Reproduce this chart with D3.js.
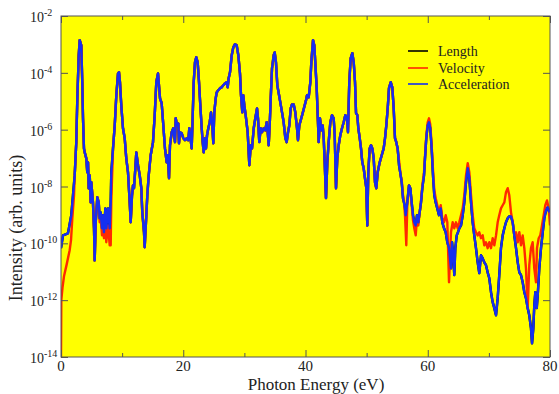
<!DOCTYPE html>
<html><head><meta charset="utf-8">
<script src="https://cdn.jsdelivr.net/npm/d3@7"></script>
<style>body{margin:0;background:#fff}svg{display:block}</style>
</head><body>
<script>
// ---------- data ----------
const xTicks = [0, 20, 40, 60, 80];
const xMinorTicks = [10, 30, 50, 70];
const yExponents = [-2, -4, -6, -8, -10, -12, -14];
const seriesNames = ["Length", "Velocity", "Acceleration"];
const seriesColors = ["#000000", "#ff2a00", "#1530f0"];

// segments: [photon energy (eV), log10 intensity]
const accHead = [[0,-10.17],[0.33,-9.72],[1.14,-9.65],[1.68,-9.01],[1.96,-8.31]];
const velHead = [[0,-14],[0.05,-12.0],[0.25,-11.55],[0.49,-11.16],[0.93,-10.74],[1.42,-10.24],[1.64,-9.89],[1.85,-9.12],[2.13,-8.31]];
const shared1 = [[2.24,-7.61],[2.50,-6.44],[2.67,-4.90],[2.90,-3.38],[3.06,-2.85],[3.32,-3.03],[3.48,-4.33],[3.60,-5.60],[3.76,-6.66],[3.88,-6.80],[4.14,-7.01],[4.30,-7.50],[4.42,-7.15],[4.53,-8.06],[4.70,-7.61],[4.86,-8.56],[4.96,-7.85],[5.23,-8.56],[5.40,-9.47],[5.51,-10.60],[5.68,-9.26],[5.94,-8.38],[6.17,-8.56]];
const accDip = [[6.33,-9.12],[6.49,-8.91],[6.71,-9.47],[6.87,-9.01],[7.03,-9.61],[7.25,-8.77],[7.41,-9.47],[7.69,-8.77],[7.97,-9.47],[8.13,-8.56],[8.23,-7.50]];
const velDip = [[6.33,-9.26],[6.49,-9.01],[6.71,-9.72],[6.87,-9.19],[7.03,-9.82],[7.25,-9.01],[7.41,-9.96],[7.69,-9.37],[7.97,-10.07],[8.13,-10.07],[8.23,-8.49]];
const shared2 = [[8.51,-6.66],[8.79,-5.85],[9.05,-4.79],[9.33,-4.02],[9.49,-3.98],[9.65,-4.33],[9.86,-5.14],[10.14,-5.95],[10.42,-6.30],[10.68,-7.01],[10.96,-7.50],[11.24,-8.56],[11.40,-9.26],[11.62,-8.31],[11.78,-7.96],[11.94,-8.06],[12.16,-7.36],[12.32,-6.80],[12.60,-7.25],[12.88,-7.61],[13.14,-8.06],[13.30,-8.91],[13.58,-9.61],[13.69,-10.14],[13.96,-9.01],[14.12,-8.31],[14.35,-7.61],[14.67,-6.90],[15.05,-6.44],[15.33,-5.49],[15.59,-4.33],[15.87,-4.02],[16.20,-4.90],[16.47,-5.07],[16.74,-5.85],[17.01,-6.66],[17.29,-7.15],[17.46,-6.90],[17.67,-7.71],[17.83,-6.55],[18.11,-6.09],[18.37,-5.95],[18.65,-6.44],[18.77,-5.60],[18.98,-5.85],[19.19,-5.78],[19.30,-6.48],[19.47,-6.09],[19.75,-6.13],[20.01,-6.30],[20.29,-6.37],[20.56,-6.30],[20.83,-6.37],[20.99,-5.95],[21.22,-6.37],[21.38,-6.66],[21.55,-5.49],[21.71,-4.33],[21.92,-3.63],[22.13,-3.45],[22.36,-3.63],[22.58,-4.33],[22.79,-5.14],[23.02,-5.95],[23.18,-6.44],[23.35,-6.80],[23.56,-6.30],[23.72,-6.66],[23.89,-6.20],[24.10,-5.95],[24.33,-5.74],[24.54,-5.39],[24.75,-5.85],[24.92,-6.48],[25.08,-5.39],[25.31,-4.90],[25.47,-4.69],[25.73,-4.61],[26.01,-4.54],[26.29,-4.51],[26.55,-4.44],[26.83,-4.37],[27.11,-4.33],[27.27,-4.51],[27.43,-4.19],[27.65,-3.98],[27.93,-3.38],[28.19,-3.10],[28.47,-2.99],[28.74,-3.03],[29.01,-3.38],[29.28,-4.02],[29.45,-4.79],[29.66,-5.39],[29.82,-4.79],[29.99,-5.14],[30.21,-5.49],[30.54,-6.09],[30.81,-7.25],[31.04,-6.55],[31.25,-6.66],[31.53,-5.95],[31.79,-5.60],[32.07,-5.25],[32.23,-5.60],[32.44,-6.44],[32.67,-5.95],[32.88,-6.09],[33.16,-5.95],[33.42,-6.02],[33.65,-5.74],[33.82,-6.09],[33.98,-6.55],[34.14,-5.85],[34.31,-4.90],[34.52,-3.84],[34.80,-3.38],[34.96,-3.28],[35.17,-3.63],[35.39,-4.44],[35.62,-4.72],[35.88,-5.04],[36.16,-5.39],[36.43,-5.74],[36.70,-6.30],[36.92,-6.44],[37.14,-6.09],[37.35,-5.85],[37.58,-5.25],[37.79,-5.11],[38.07,-5.11],[38.33,-5.39],[38.61,-5.95],[38.77,-6.37],[38.99,-5.85],[39.31,-5.60],[39.54,-5.42],[39.87,-5.14],[40.08,-4.97],[40.25,-4.79],[40.52,-4.86],[40.79,-4.33],[40.95,-3.63],[41.23,-2.85],[41.44,-3.03],[41.60,-3.63],[41.83,-4.54],[42.04,-5.74],[42.16,-6.44],[42.37,-5.60],[42.58,-6.02],[42.81,-5.85],[42.98,-6.30],[43.14,-7.15],[43.35,-8.41],[43.57,-7.15],[43.79,-6.44],[44.06,-5.74],[44.33,-5.49],[44.61,-5.60],[44.78,-6.20],[44.99,-8.06],[45.20,-7.01],[45.43,-6.55],[45.69,-6.20],[45.97,-5.95],[46.25,-5.74],[46.51,-5.49],[46.79,-5.60],[46.95,-6.09],[47.16,-4.33],[47.39,-3.49],[47.66,-3.31],[47.89,-3.63],[48.10,-4.33],[48.27,-5.42],[48.48,-5.49],[48.64,-5.95],[48.87,-6.30],[49.08,-6.66],[49.29,-7.15],[49.52,-7.36],[49.73,-7.71],[49.95,-8.06],[50.11,-9.37],[50.27,-7.50],[50.50,-6.66],[50.72,-6.55],[50.93,-6.66],[51.16,-7.01],[51.37,-7.85],[51.58,-8.06],[51.81,-7.50],[52.14,-7.15],[52.47,-6.90],[52.79,-6.66],[53.01,-6.30],[53.22,-5.85],[53.45,-5.25],[53.66,-4.54],[53.94,-4.33],[54.20,-4.51],[54.43,-5.25]];
const accTail = [[54.64,-6.30],[54.85,-6.44],[55.08,-6.66],[55.30,-7.25],[55.57,-7.61],[55.74,-7.85],[55.95,-8.41],[56.11,-8.56],[56.28,-8.77],[56.39,-9.01],[56.65,-8.56],[56.93,-7.96],[57.15,-8.06],[57.37,-8.56],[57.59,-9.01],[57.80,-9.26],[58.03,-9.37],[58.24,-9.01],[58.45,-9.26],[58.68,-8.91],[58.90,-8.56],[59.11,-8.06],[59.39,-7.61],[59.55,-7.01],[59.76,-6.30],[59.99,-5.85],[60.20,-5.74],[60.41,-5.95],[60.64,-6.66],[60.86,-7.61],[61.07,-8.31],[61.30,-8.56],[61.56,-8.77],[61.84,-9.01],[62.12,-8.77],[62.38,-9.26],[62.66,-9.47],[62.94,-9.61],[63.20,-9.96],[63.48,-10.17],[63.80,-10.88],[63.97,-9.96],[64.18,-10.42],[64.34,-11.12],[64.51,-10.17],[64.74,-9.72],[64.95,-9.61],[65.16,-9.47],[65.44,-9.37],[65.72,-9.01],[65.98,-8.56],[66.26,-7.85],[66.54,-7.36],[66.80,-7.71],[67.08,-8.56],[67.35,-9.26],[67.61,-9.72],[67.89,-10.17],[68.17,-10.67],[68.43,-11.05],[68.71,-10.42],[68.99,-10.53],[69.25,-10.67],[69.53,-10.77],[69.80,-11.02],[70.07,-11.23],[70.35,-11.72],[70.62,-12.07],[70.89,-12.28],[71.17,-12.53],[71.44,-11.93],[71.70,-11.12],[71.98,-10.17],[72.26,-9.72],[72.53,-9.47],[72.80,-9.26],[73.08,-9.12],[73.34,-9.05],[73.62,-9.05],[73.90,-9.26],[74.16,-9.72],[74.44,-10.17],[74.72,-10.67],[74.98,-11.02],[75.26,-11.12],[75.53,-11.37],[75.80,-11.72],[76.07,-11.93],[76.35,-12.28],[76.61,-12.53],[76.89,-12.99],[77.06,-13.52],[77.27,-12.99],[77.43,-12.18],[77.60,-11.72],[77.83,-12.28],[77.99,-11.83],[78.25,-10.88],[78.53,-10.17],[78.81,-9.61],[79.07,-9.12],[79.35,-8.84],[79.62,-8.73],[79.89,-8.91]];
const velTail = [[54.64,-6.30],[54.85,-6.44],[55.08,-6.73],[55.30,-7.08],[55.57,-7.61],[55.74,-7.78],[55.95,-8.31],[56.11,-8.49],[56.28,-9.01],[56.49,-10.07],[56.65,-8.66],[56.93,-7.96],[57.15,-8.13],[57.37,-8.66],[57.59,-9.19],[57.80,-9.47],[58.03,-9.72],[58.24,-9.12],[58.45,-9.37],[58.68,-8.91],[58.90,-8.49],[59.11,-7.99],[59.39,-7.50],[59.55,-6.94],[59.76,-6.23],[59.99,-5.74],[60.20,-5.60],[60.41,-5.81],[60.64,-6.55],[60.86,-7.43],[61.07,-8.13],[61.30,-8.41],[61.56,-8.66],[61.84,-8.91],[62.12,-8.66],[62.38,-9.12],[62.66,-9.26],[62.94,-9.01],[63.20,-9.26],[63.48,-11.37],[63.80,-9.61],[64.08,-9.26],[64.34,-9.47],[64.62,-9.26],[64.90,-9.47],[65.16,-9.26],[65.44,-9.01],[65.72,-8.77],[65.98,-8.31],[66.26,-7.61],[66.54,-7.18],[66.80,-7.50],[67.08,-8.31],[67.35,-9.01],[67.61,-9.47],[67.89,-9.61],[68.17,-9.72],[68.43,-9.61],[68.71,-9.82],[68.99,-9.72],[69.25,-10.07],[69.53,-9.96],[69.80,-10.17],[70.07,-9.96],[70.35,-10.17],[70.62,-9.82],[70.89,-10.07],[71.17,-9.72],[71.44,-9.26],[71.70,-9.01],[71.98,-8.77],[72.26,-8.66],[72.53,-8.56],[72.80,-8.20],[73.08,-8.06],[73.34,-8.31],[73.62,-8.91],[73.90,-9.26],[74.16,-9.72],[74.44,-9.61],[74.72,-9.96],[74.98,-9.61],[75.26,-10.07],[75.53,-9.72],[75.80,-10.17],[76.07,-10.88],[76.35,-12.28],[76.61,-10.77],[76.89,-10.17],[77.16,-9.96],[77.43,-10.88],[77.71,-11.37],[77.87,-10.17],[78.15,-9.82],[78.41,-9.72],[78.69,-9.37],[78.97,-9.01],[79.23,-8.66],[79.51,-8.49],[79.79,-8.77],[80.00,-9.37]];

const acceleration = [...accHead, ...shared1, ...accDip, ...shared2, ...accTail];
const velocity = [...velHead, ...shared1, ...velDip, ...shared2, ...velTail];
const lengthGauge = acceleration; // length-gauge curve lies under the acceleration curve

// ---------- layout ----------
const W = 559, H = 394;
const m = {left: 61, right: 9, top: 16, bottom: 37};
const pw = W - m.left - m.right, ph = H - m.top - m.bottom;

const svg = d3.select("body").append("svg").attr("width", W).attr("height", H);
const x = d3.scaleLinear().domain([0, 80]).range([0, pw]);
const y = d3.scaleLog().domain([1e-14, 1e-2]).range([ph, 0]);

const g = svg.append("g").attr("transform", `translate(${m.left},${m.top})`);
g.append("rect").attr("width", pw).attr("height", ph).attr("fill", "#ffff00");

g.append("clipPath").attr("id", "clip").append("rect").attr("width", pw).attr("height", ph);

const line = d3.line().x(d => x(d[0])).y(d => y(Math.pow(10, d[1])));
const seriesData = [lengthGauge, velocity, acceleration];
seriesData.forEach((data, i) => {
  g.append("path").datum(data)
    .attr("clip-path", "url(#clip)")
    .attr("fill", "none").attr("stroke", seriesColors[i])
    .attr("stroke-width", 2.4).attr("stroke-linejoin", "round")
    .attr("d", line);
});

// axes (ticks inward on all sides)
const frameColor = "#555";
const yTickVals = yExponents.map(e => Math.pow(10, e));
const axB = g.append("g").attr("transform", `translate(0,${ph})`).call(d3.axisBottom(x).tickValues(xTicks).tickSize(-7).tickFormat(""));
const axBm = g.append("g").attr("transform", `translate(0,${ph})`).call(d3.axisBottom(x).tickValues(xMinorTicks).tickSize(-4).tickFormat(""));
const axT = g.append("g").call(d3.axisTop(x).tickValues(xTicks).tickSize(-7).tickFormat(""));
const axTm = g.append("g").call(d3.axisTop(x).tickValues(xMinorTicks).tickSize(-4).tickFormat(""));
const axL = g.append("g").call(d3.axisLeft(y).tickValues(yTickVals).tickSize(-7).tickFormat(""));
const axR = g.append("g").attr("transform", `translate(${pw},0)`).call(d3.axisRight(y).tickValues(yTickVals).tickSize(-7).tickFormat(""));
[axB, axBm, axT, axTm, axL, axR].forEach(a => {
  a.select(".domain").remove();
  a.selectAll("line").attr("stroke", frameColor);
});
g.append("rect").attr("width", pw).attr("height", ph).attr("fill", "none").attr("stroke", frameColor).attr("stroke-width", 1);

const font = "'Liberation Serif', 'Times New Roman', serif";
// x tick labels
g.selectAll(".xl").data(xTicks).enter().append("text")
  .attr("x", d => x(d)).attr("y", ph + 14).attr("text-anchor", "middle")
  .attr("font-family", font).attr("font-size", 15).attr("fill", "#222").text(d => d);
// y tick labels
yExponents.forEach(e => {
  const t = svg.append("text").attr("x", 30).attr("y", m.top + y(Math.pow(10, e)) + 6)
    .attr("font-family", font).attr("font-size", 14).attr("fill", "#222");
  t.append("tspan").text("10");
  t.append("tspan").attr("dy", -6).attr("font-size", 10).text(String(e));
});

// axis titles
svg.append("text").attr("x", 316).attr("y", 390).attr("text-anchor", "middle")
  .attr("font-family", font).attr("font-size", 17).attr("fill", "#222").text("Photon Energy (eV)");
svg.append("text").attr("transform", "translate(22,228) rotate(-90)").attr("text-anchor", "middle")
  .attr("font-family", font).attr("font-size", 18).attr("fill", "#222").text("Intensity (arb. units)");

// legend
const legY = [51, 68, 84];
seriesNames.forEach((n, i) => {
  svg.append("line").attr("x1", 408).attr("x2", 428).attr("y1", legY[i]).attr("y2", legY[i])
    .attr("stroke", seriesColors[i]).attr("stroke-width", 1.6);
  svg.append("text").attr("x", 438).attr("y", legY[i] + 5)
    .attr("font-family", font).attr("font-size", 14).attr("fill", "#222").text(n);
});
</script>
</body></html>
